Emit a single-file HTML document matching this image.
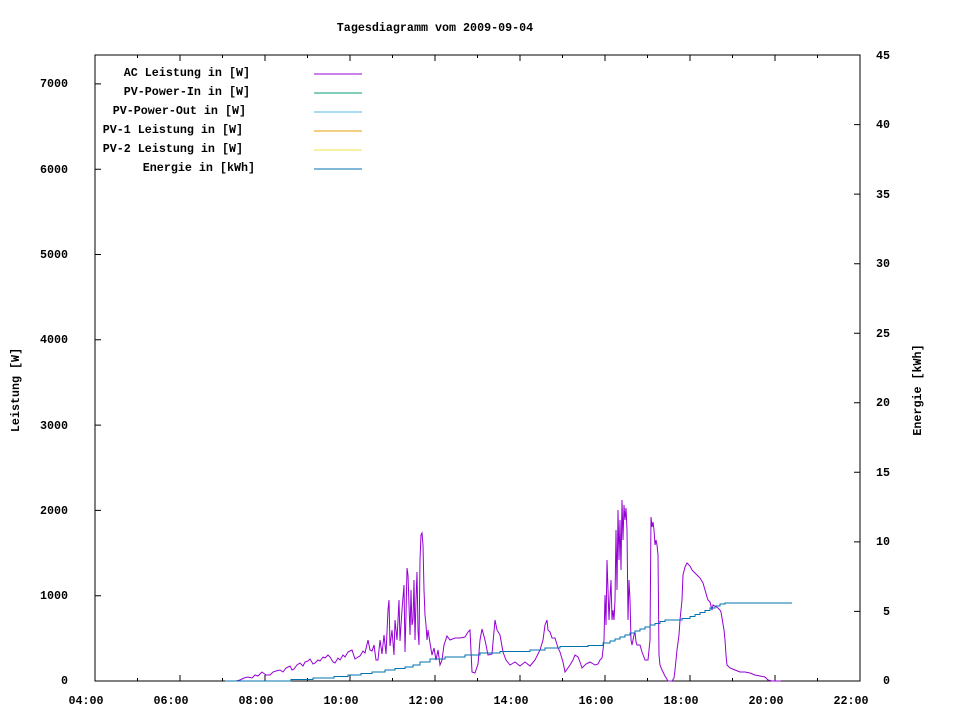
<!DOCTYPE html>
<html><head><meta charset="utf-8"><style>
html,body{margin:0;padding:0;background:#fff}
svg{display:block}
text{font-family:"Liberation Mono",monospace;font-size:11.7px;font-weight:bold;fill:#000}
</style></head><body>
<svg width="960" height="720" xmlns="http://www.w3.org/2000/svg">
<text x="435" y="31" text-anchor="middle">Tagesdiagramm vom 2009-09-04</text>
<rect x="95" y="55" width="765" height="626" fill="none" stroke="#000" stroke-width="1"/>
<g stroke="#000" stroke-width="1">
<path d="M180,681v-6M265,681v-6M350,681v-6M435,681v-6M520,681v-6M605,681v-6M690,681v-6M775,681v-6
M180,55v6M265,55v6M350,55v6M435,55v6M520,55v6M605,55v6M690,55v6M775,55v6
M137.5,681v-3M222.5,681v-3M307.5,681v-3M392.5,681v-3M477.5,681v-3M562.5,681v-3M647.5,681v-3M732.5,681v-3M817.5,681v-3
M137.5,55v3M222.5,55v3M307.5,55v3M392.5,55v3M477.5,55v3M562.5,55v3M647.5,55v3M732.5,55v3M817.5,55v3
M95,595.7h6M95,510.4h6M95,425.1h6M95,339.8h6M95,254.5h6M95,169.2h6M95,83.9h6
M860,611.4h-6M860,541.9h-6M860,472.3h-6M860,402.8h-6M860,333.2h-6M860,263.7h-6M860,194.1h-6M860,124.6h-6"/>
</g>
<g text-anchor="end">
<text x="68" y="684">0</text><text x="68" y="599">1000</text><text x="68" y="514">2000</text><text x="68" y="429">3000</text><text x="68" y="343">4000</text><text x="68" y="258">5000</text><text x="68" y="173">6000</text><text x="68" y="87">7000</text>
</g>
<g text-anchor="end">
<text x="890" y="684">0</text><text x="890" y="615">5</text><text x="890" y="545">10</text><text x="890" y="476">15</text><text x="890" y="406">20</text><text x="890" y="337">25</text><text x="890" y="267">30</text><text x="890" y="198">35</text><text x="890" y="128">40</text><text x="890" y="59">45</text>
</g>
<g text-anchor="middle">
<text x="86" y="704">04:00</text><text x="171" y="704">06:00</text><text x="256" y="704">08:00</text><text x="341" y="704">10:00</text><text x="426" y="704">12:00</text><text x="511" y="704">14:00</text><text x="596" y="704">16:00</text><text x="681" y="704">18:00</text><text x="766" y="704">20:00</text><text x="851" y="704">22:00</text>
</g>
<text transform="translate(19,390) rotate(-90)" text-anchor="middle">Leistung [W]</text>
<text transform="translate(921,390) rotate(-90)" text-anchor="middle">Energie [kWh]</text>
<g text-anchor="end">
<text x="250" y="76">AC Leistung in [W]</text>
<text x="250" y="95">PV-Power-In in [W]</text>
<text x="246" y="114">PV-Power-Out in [W]</text>
<text x="243" y="133">PV-1 Leistung in [W]</text>
<text x="243" y="152">PV-2 Leistung in [W]</text>
<text x="255" y="171">Energie in [kWh]</text>
</g>
<path d="M314,74h48" stroke="#9400d3"/>
<path d="M314,93h48" stroke="#009e73"/>
<path d="M314,112h48" stroke="#56b4e9"/>
<path d="M314,131h48" stroke="#e69f00"/>
<path d="M314,150h48" stroke="#f0e442"/>
<path d="M314,169h48" stroke="#0072b2"/>
<polyline fill="none" stroke="#9400d3" stroke-width="1" points="225,681 236,681 240,680 244,678 248,677 252,678 255,675 258,676 262,672 266,675 270,675 273,672 276,671 280,670 283,672 286,668 290,666 292,670 294,669 297,665 300,663 303,666 305,662 308,661 310,659 313,664 315,663 318,660 320,661 323,657 325,658 328,655 330,657 333,662 335,663 338,658 340,660 343,655 345,657 348,652 352,650 355,659 358,657 360,656 363,651 365,653 368,640 370,650 372,651 374,645 376,660 378,660 380,640 382,654 384,635 386,654 388,610 389,600 390,646 392,630 394,655 395,620 397,640 399,600 400,641 402,610 404,585 405,652 406,615 407,568 408,575 409,605 410,635 411,590 412,625 413,620 414,580 415,640 416,600 417,572 418,630 419,645 420,560 421,535 422,533 423,545 424,590 425,615 426,625 427,640 428,630 430,643 432,655 434,648 436,660 438,650 440,665 442,660 444,645 447,636 450,640 455,638 460,638 465,637 468,632 470,630 472,672 475,673 478,664 480,640 482,629 485,640 488,655 492,654 495,620 497,630 500,635 503,652 506,660 510,665 515,662 520,666 525,662 530,666 535,660 540,650 543,640 545,625 547,620 548,630 550,632 552,638 555,638 558,648 560,652 563,662 565,672 570,665 573,660 575,655 578,657 580,662 582,668 586,664 590,662 595,665 598,664 600,660 602,658 603,650 604,640 605,595 606,625 607,560 608,590 609,620 610,598 611,580 612,620 613,610 614,620 615,600 616,530 617,590 618,510 619,560 620,520 621,570 622,500 623,540 624,505 625,520 626,508 627,530 628,620 629,580 630,600 631,640 632,645 634,635 635,632 636,642 637,645 640,645 642,652 645,660 648,660 650,640 651,517 652,527 653,522 654,530 655,545 656,540 657,545 658,555 659,655 660,665 662,670 665,676 668,681 672,681 674,678 675,670 677,650 679,635 680,620 682,600 683,575 685,567 687,563 690,566 692,570 695,573 698,576 700,578 703,583 705,590 707,597 708,600 710,602 712,610 713,605 715,606 718,608 720,610 721,612 722,618 724,630 725,640 726,655 727,665 730,668 735,670 740,672 745,672 750,673 755,675 760,676 765,677 768,680 772,681 781,681"/>
<polyline fill="none" stroke="#0072b2" stroke-width="1" points="225,681 291,681 291,679.5 313,679.5 313,678 334,678 334,676.5 348,676.5 348,675 361,675 361,673.5 372,673.5 372,672 385,672 385,670 395,670 395,668.5 405,668.5 405,667 413,667 413,665 420,665 420,662 430,662 430,659 445,659 445,657 465,657 465,655 480,655 480,653 500,653 500,651.5 530,651.5 530,650 545,650 545,648 560,648 560,646.5 588,646.5 588,645.5 603,645.5 603,643 610,643 610,641 615,641 615,639 620,639 620,637 625,637 625,635 630,635 630,633 635,633 635,631 640,631 640,629 645,629 645,627 650,627 650,625 655,625 655,623.5 660,623.5 660,621.5 665,621.5 665,620 682,620 682,618.5 690,618.5 690,616.5 695,616.5 695,614.5 700,614.5 700,612.5 705,612.5 705,610.5 710,610.5 710,608 715,608 715,606 720,606 720,604 725,604 725,603 792,603"/>
</svg>
</body></html>
